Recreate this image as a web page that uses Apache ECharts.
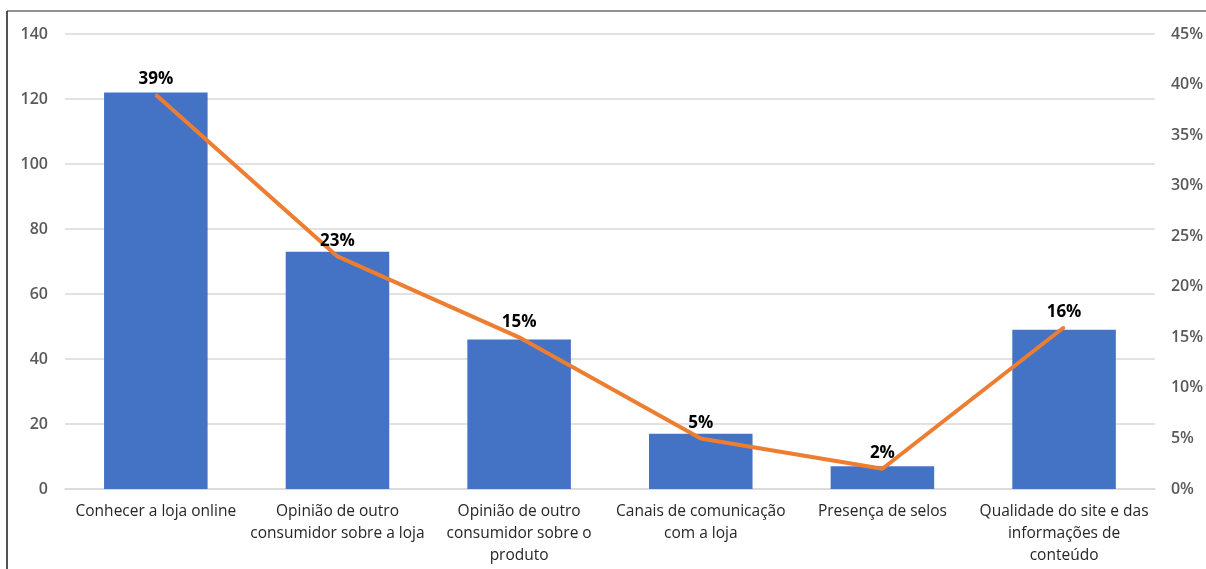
<!DOCTYPE html>
<html>
<head>
<meta charset="utf-8">
<script src="https://cdn.jsdelivr.net/npm/echarts@6/dist/echarts.min.js"></script>
<style>html,body{margin:0;padding:0;background:#fff;}#c{width:1206px;height:569px;}</style>
</head>
<body>
<div id="c"></div>
<script>
const categories = [
  "Conhecer a loja online",
  "Opinião de outro\nconsumidor sobre a loja",
  "Opinião de outro\nconsumidor sobre o\nproduto",
  "Canais de comunicação\ncom a loja",
  "Presença de selos",
  "Qualidade do site e das\ninformações de\nconteúdo"
];
const counts = [122, 73, 46, 17, 7, 49];
const percents = [39, 23, 15, 5, 2, 16];

const chart = echarts.init(document.getElementById('c'));
const font = '"Segoe UI", "Open Sans", "Noto Sans", sans-serif';
chart.setOption({
  animation: false,
  backgroundColor: '#fff',
  grid: { left: 65, right: 49, top: 34, bottom: 80 },
  graphic: [
    { type: 'line', shape: { x1: 7, y1: 11, x2: 1206, y2: 11 }, style: { stroke: '#6e6e6e', lineWidth: 1.5 } },
    { type: 'line', shape: { x1: 7, y1: 11, x2: 7, y2: 569 }, style: { stroke: '#1a1a1a', lineWidth: 1.5 } }
  ],
  xAxis: {
    type: 'category',
    data: categories,
    axisLine: { show: true, lineStyle: { color: '#d9d9d9', width: 1.5 } },
    axisTick: { show: false },
    axisLabel: { color: '#262626', fontSize: 15.5, fontFamily: font, lineHeight: 22, margin: 12, interval: 0 }
  },
  yAxis: [
    {
      type: 'value', min: 0, max: 140, interval: 20,
      axisLine: { show: false }, axisTick: { show: false },
      splitLine: { lineStyle: { color: '#d9d9d9', width: 1.5 } },
      axisLabel: { color: '#595959', fontSize: 16, fontFamily: font, fontWeight: 600, margin: 17 }
    },
    {
      type: 'value', min: 0, max: 45, interval: 5, position: 'right',
      axisLine: { show: false }, axisTick: { show: false },
      splitLine: { show: false },
      axisLabel: { color: '#595959', fontSize: 16, fontFamily: font, fontWeight: 600, margin: 16, formatter: v => v + '%' }
    }
  ],
  series: [
    {
      type: 'bar', data: counts, yAxisIndex: 0, barWidth: '57%',
      itemStyle: { color: '#4472C4' }
    },
    {
      type: 'line', data: percents, yAxisIndex: 1,
      symbol: 'circle', symbolSize: 2, showSymbol: true,
      itemStyle: { color: '#ED7D31' },
      lineStyle: { color: '#ED7D31', width: 4 },
      label: { show: true, position: 'top', distance: 6, formatter: p => p.value + '%', color: '#000', fontWeight: 'bold', fontSize: 17, fontFamily: font }
    }
  ]
});
</script>
</body>
</html>
